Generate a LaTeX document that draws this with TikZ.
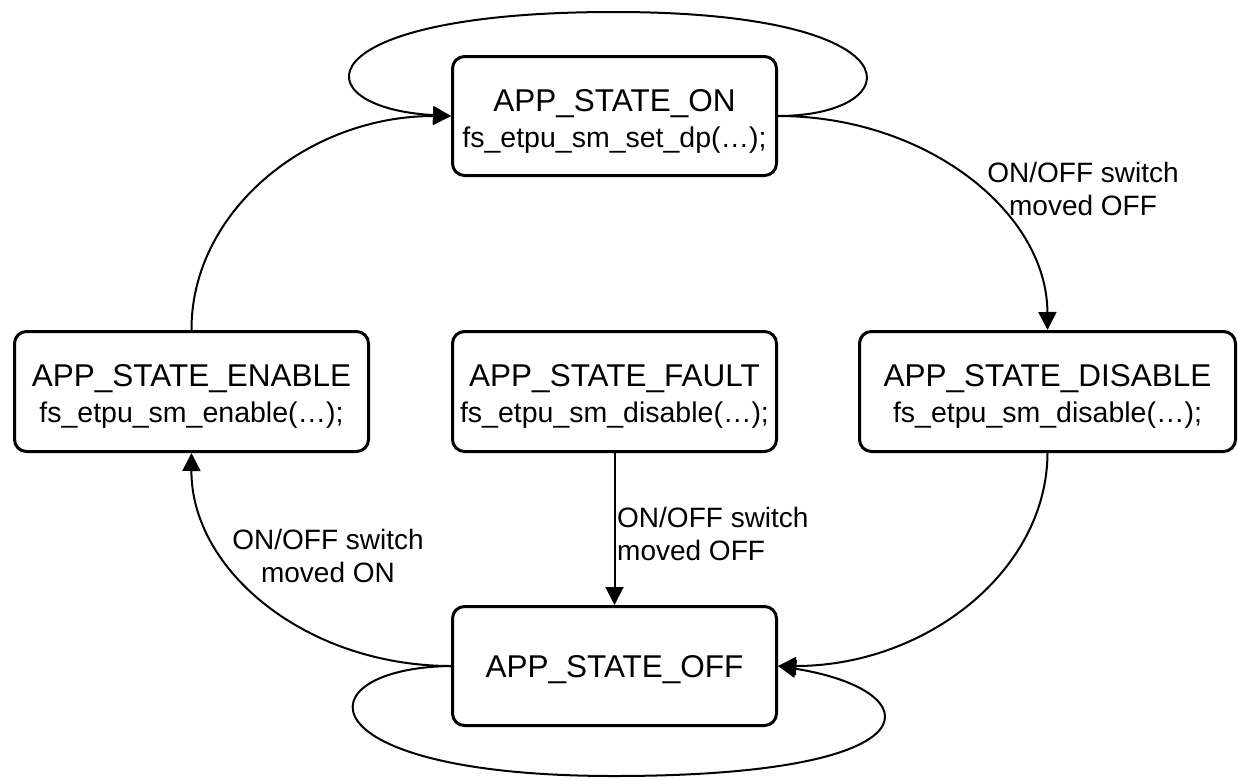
\documentclass[tikz,border=0pt]{standalone}
\usepackage{fontspec}
\setmainfont{Liberation Sans}
\usetikzlibrary{arrows.meta}
\begin{document}
\begin{tikzpicture}[x=1pt,y=-1pt,
  state/.style={draw, line width=3pt, rounded corners=12pt, align=center, inner sep=0pt,
    font=\fontsize{28.5}{36}\selectfont},
  conn/.style={line width=2pt, -{Triangle[length=18pt,width=18pt]}},
  elabel/.style={font=\fontsize{28}{33}\selectfont, align=center, inner sep=0pt}]
\useasboundingbox (0,0) rectangle (1238,779);

\node[state, minimum width=324pt, minimum height=119pt] (on) at (614.5,116)
  {{\fontsize{31.5}{36}\selectfont\rule{0pt}{32pt}APP\_STATE\_ON}\\fs\_etpu\_sm\_set\_dp(…);};
\node[state, minimum width=354pt, minimum height=120pt] (en) at (191.5,391.5)
  {{\fontsize{31.5}{36}\selectfont\rule{0pt}{32pt}APP\_STATE\_ENABLE}\\fs\_etpu\_sm\_enable(…);};
\node[state, minimum width=324pt, minimum height=120pt] (fault) at (614.5,391.5)
  {{\fontsize{31.5}{36}\selectfont\rule{0pt}{32pt}APP\_STATE\_FAULT}\\fs\_etpu\_sm\_disable(…);};
\node[state, minimum width=376pt, minimum height=120pt] (dis) at (1047.5,391.5)
  {{\fontsize{31.5}{36}\selectfont\rule{0pt}{32pt}APP\_STATE\_DISABLE}\\fs\_etpu\_sm\_disable(…);};
\node[state, minimum width=324pt, minimum height=119pt] (off) at (614.5,666)
  {{\fontsize{31.5}{36}\selectfont\rule[-6pt]{0pt}{36pt}APP\_STATE\_OFF}};

\coordinate (topmid) at (614,12);
\coordinate (botmid) at (614,776);

\draw[conn] (on.east) .. controls (910,116) and (925,12) .. (topmid)
  .. controls (300,12) and (300,108) .. (on.west);
\draw[conn] (on.east) .. controls (926,116) and (1047,212) .. (dis.north);
\draw[conn] (dis.south) .. controls (1047,571) and (926,666) .. (off.east);
\draw[conn] (off.west) .. controls (300,668) and (300,776) .. (botmid)
  .. controls (945,776) and (930,690) .. (off.east);
\draw[conn] (off.west) .. controls (307,666) and (191,571) .. (en.south);
\draw[conn] (en.north) .. controls (191,212) and (307,116) .. (on.west);
\draw[conn] (fault.south) -- (off.north);

\node[elabel] (l1) at (1083,189) {ON/OFF switch\\moved OFF};
\node[elabel] (l2) at (328,555.5) {ON/OFF switch\\moved ON};
\node[elabel, align=left, anchor=west] (l3) at (617,533.5) {ON/OFF switch\\moved OFF};
\end{tikzpicture}
\end{document}
